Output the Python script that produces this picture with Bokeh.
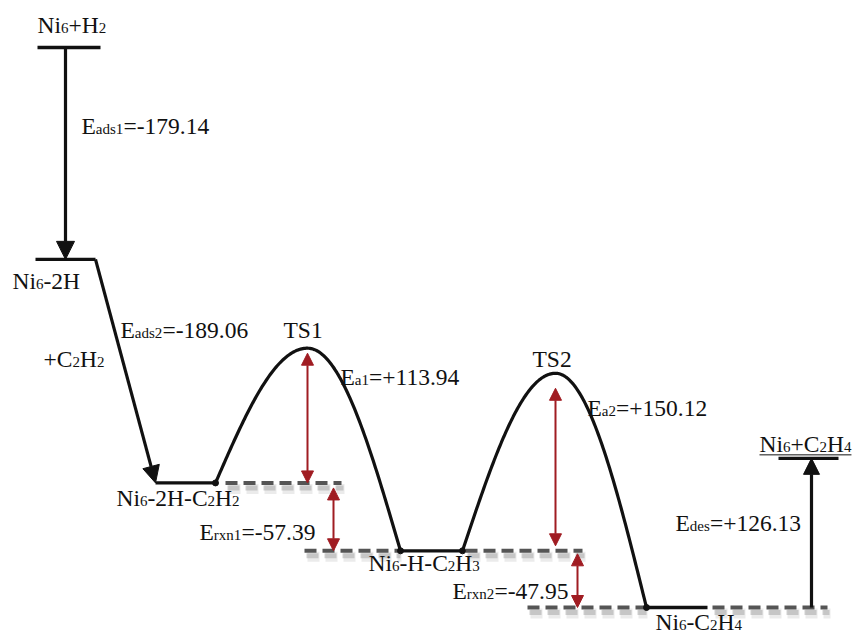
import re
import numpy as np
from bokeh.plotting import figure
from bokeh.models import Range1d, ColumnDataSource, Arrow, NormalHead
from bokeh.core.properties import value
from bokeh.embed import file_html
from bokeh.resources import INLINE

# ---- energy changes along the hydrogenation pathway (kJ/mol) ----
e_ads1 = -179.14   # H2 dissociative adsorption
e_ads2 = -189.06   # C2H2 adsorption
e_a1 = 113.94      # barrier, first H transfer
e_rxn1 = -57.39    # reaction energy, first H transfer
e_a2 = 150.12      # barrier, second H transfer
e_rxn2 = -47.95    # reaction energy, second H transfer
e_des = 126.13     # C2H4 desorption

# state names ("_" marks a subscript, braces group several characters)
species = ["Ni_6+H_2", "Ni_6-2H", "Ni_6-2H-C_2H_2", "Ni_6-H-C_2H_3", "Ni_6-C_2H_4", "Ni_6+C_2H_4"]
ts_names = ["TS1", "TS2"]
reactant_add = "+C_2H_2"

# cumulative energies of every stationary point
E_start = 0.0
E_2h = E_start + e_ads1
E_co = E_2h + e_ads2
E_ts1 = E_co + e_a1
E_vinyl = E_co + e_rxn1
E_ts2 = E_vinyl + e_a2
E_eth = E_vinyl + e_rxn2
E_end = E_eth + e_des

# ---- canvas ----
W, H = 857, 636
K = 1 / 1.1826                 # energy units per screen pixel
Y_TOP = E_start + 47 * K
Y_BOT = Y_TOP - H * K

p = figure(width=W, height=H, x_range=Range1d(0, W), y_range=Range1d(Y_BOT, Y_TOP),
           output_backend="svg", toolbar_location=None, min_border=0)
p.axis.visible = False
p.grid.visible = False
p.outline_line_color = None
p.background_fill_color = "white"
p.border_fill_color = "white"

BLACK = "#111111"
RED = "#A01C22"
GREY = "#555555"

def dy(E, px):
    """Energy shifted by px screen pixels downwards."""
    return E - px * K

# ---- dashed reference lines with a soft shadow ----
guides = [(225, 341, E_co), (304, 398, E_vinyl), (465, 582, E_vinyl),
          (527, 644, E_eth), (712, 827, E_eth)]
for x0, x1, e in guides:
    p.line([x0 + 3, x1 + 3], [dy(e, 6), dy(e, 6)], line_color="#b0b0b0", line_alpha=0.25,
           line_width=10, line_dash="12 6")
    p.line([x0 + 2, x1 + 2], [dy(e, 5), dy(e, 5)], line_color="#9a9a9a", line_alpha=0.45,
           line_width=5, line_dash="12 6")
    p.line([x0, x1], [e, e], line_color=GREY, line_width=4, line_dash="12 6")

# ---- energy levels ----
levels = [(37, 100, E_start), (35, 95, E_2h), (155, 215, E_co),
          (400, 462, E_vinyl), (646, 707, E_eth), (778, 838, E_end)]
for x0, x1, e in levels:
    p.line([x0, x1], [e, e], line_color=BLACK, line_width=3.3)

# ---- barriers ----
def barrier(x0, e0, xp, ep, x1, e1, n=80):
    t = np.linspace(0, 1, n)
    xr = x0 + (xp - x0) * t
    er = e0 + (ep - e0) * np.sin(np.pi / 2 * t)
    xf = xp + (x1 - xp) * t
    ef = ep + (e1 - ep) * (1 - np.cos(np.pi / 2 * t))
    return np.concatenate([xr, xf[1:]]), np.concatenate([er, ef[1:]])

for (x0, e0, xp, ep, x1, e1) in [(215, E_co, 307, E_ts1, 400, E_vinyl),
                                 (462, E_vinyl, 555, E_ts2, 646, E_eth)]:
    bx, by = barrier(x0, e0, xp, ep, x1, e1)
    p.line(bx, by, line_color=BLACK, line_width=3.2)

p.scatter([215, 400, 462, 646], [E_co, E_vinyl, E_vinyl, E_eth], size=6,
          fill_color=BLACK, line_color=BLACK)

# ---- black step arrows ----
def black_arrow(xs, ys, xe, ye, size):
    p.add_layout(Arrow(end=NormalHead(size=size, fill_color=BLACK, line_color=BLACK),
                       x_start=xs, y_start=ys, x_end=xe, y_end=ye,
                       line_color=BLACK, line_width=3.2))

black_arrow(65, E_start, 65, E_2h, 18)
black_arrow(95, E_2h, 155, E_co, 17)
black_arrow(811, E_eth, 811, E_end, 16)

# ---- red double arrows for barriers / reaction energies ----
def red_arrow(x, e_top, e_bot):
    p.add_layout(Arrow(start=NormalHead(size=12, fill_color=RED, line_color=RED),
                       end=NormalHead(size=12, fill_color=RED, line_color=RED),
                       x_start=x, y_start=e_top, x_end=x, y_end=e_bot,
                       line_color=RED, line_width=2))

red_arrow(307, dy(E_ts1, 5), E_co)
red_arrow(333, dy(E_co, 5), E_vinyl)
red_arrow(555, dy(E_ts2, 15), dy(E_vinyl, -5))
red_arrow(577, dy(E_vinyl, 3), E_eth)

# ---- text with subscripts ----
FS = 23.5
SUB = 0.64
LIFT = 8          # baseline correction of the svg text renderer, px
ADV = {'N': .722, 'i': .278, 'H': .722, 'C': .667, 'E': .611, 'T': .611, 'S': .556,
       'a': .444, 'd': .5, 's': .389, 'r': .333, 'x': .5, 'n': .5, 'e': .444,
       '+': .564, '-': .333, '=': .564, '.': .25, ' ': .25}

def parse(markup):
    segs = []
    for m in re.finditer(r"_\{([^}]*)\}|_(.)|([^_]+)", markup):
        if m.group(1) is not None:
            segs.append((m.group(1), True))
        elif m.group(2) is not None:
            segs.append((m.group(2), True))
        else:
            segs.append((m.group(3), False))
    return segs

tx, ty, tt, ts = [], [], [], []

def label(markup, x, e_ref, px):
    base = dy(e_ref, px - LIFT)
    for txt, sub in parse(markup):
        size = FS * SUB if sub else FS
        tx.append(x)
        ty.append(dy(base, 3) if sub else base)
        tt.append(txt)
        ts.append(f"{size:.1f}px")
        x += sum(ADV.get(c, .5) for c in txt) * size
    return x

def fmt(v):
    return f"{v:+.2f}"

label(species[0], 37, E_start, -15)
label(f"E_{{ads1}}={fmt(e_ads1)}", 81, E_start, 86)
label(species[1], 12, E_2h, 30)
label(f"E_{{ads2}}={fmt(e_ads2)}", 120, E_2h, 79)
label(reactant_add, 43, E_2h, 108)
label(ts_names[0], 283, E_ts1, -10)
label(f"E_{{a1}}={fmt(e_a1)}", 340, E_ts1, 37)
label(species[2], 116, E_co, 23)
label(f"E_{{rxn1}}={fmt(e_rxn1)}", 199, E_vinyl, -11)
label(species[3], 368, E_vinyl, 20)
label(ts_names[1], 532, E_ts2, -6)
label(f"E_{{a2}}={fmt(e_a2)}", 587, E_ts2, 43)
label(f"E_{{rxn2}}={fmt(e_rxn2)}", 452, E_eth, -9)
label(species[4], 655, E_eth, 22)
x_end = label(species[5], 759, E_end, -6)
label(f"E_{{des}}={fmt(e_des)}", 675, E_eth, -77)

# thin underline of the final-state label
p.line([759, min(x_end, 853)], [dy(E_end, -3.5), dy(E_end, -3.5)], line_color=BLACK, line_width=1)

src = ColumnDataSource(dict(x=tx, y=ty, text=tt, size=ts))
p.text(x="x", y="y", text="text", source=src, text_font=value("Liberation Serif"),
       text_font_size="size", text_color=BLACK, text_baseline="alphabetic",
       text_align="left")

open("out.html", "w").write(file_html(p, INLINE))
